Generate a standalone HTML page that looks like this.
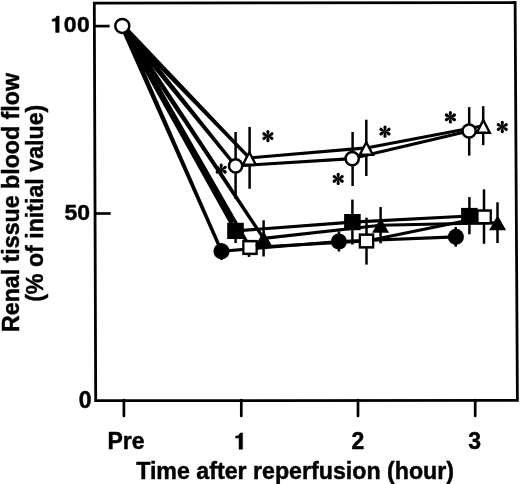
<!DOCTYPE html>
<html><head><meta charset="utf-8"><style>
html,body{margin:0;padding:0;background:#fff;width:520px;height:484px;overflow:hidden}
svg{display:block;will-change:transform}
</style></head><body>
<svg width="520" height="484" viewBox="0 0 520 484">
<rect width="520" height="484" fill="#fff"/>
<polygon points="94.3,3.07 515.1,2.52 517.4,400.28 95.7,400.7" fill="none" stroke="#000" stroke-width="2.8" stroke-linejoin="miter"/>
<g stroke="#000" stroke-width="2.7" stroke-linecap="butt">
<line x1="94.5" y1="26.1" x2="109.6" y2="26.1"/>
<line x1="95" y1="213.5" x2="110.7" y2="213.5"/>
<line x1="123.9" y1="400" x2="123.9" y2="416" stroke-linecap="round"/>
<line x1="241.3" y1="400" x2="241.3" y2="416" stroke-linecap="round"/>
<line x1="358.0" y1="400" x2="358.0" y2="416" stroke-linecap="round"/>
<line x1="475.2" y1="400" x2="475.2" y2="416" stroke-linecap="round"/>
</g>
<g fill="none" stroke="#000" stroke-width="3.1" stroke-linejoin="round" stroke-linecap="round">
<polyline points="221.5,251.2 338.9,241.5 455.9,236.9"/>
<polyline points="235.5,230.9 352.4,222.1 469.4,216.0"/>
<polyline points="250.0,247.5 366.5,241.0 484.1,216.9"/>
<polyline points="263.6,238.4 380.6,225.3 497.6,222.7"/>
<polyline points="235.6,165.9 352.2,158.6 469.1,131.0"/>
<polyline points="249.3,157.9 366.3,147.9 483.3,125.7"/>
</g>
<g fill="#000" stroke="none">
<polygon points="120.0,26.9 220.0,251.9 223.0,250.5 124.6,24.9"/>
<polygon points="120.0,27.2 234.0,231.7 237.0,230.1 124.6,24.6"/>
<polygon points="120.2,27.1 248.5,248.3 251.5,246.7 124.4,24.7"/>
<polygon points="120.1,27.4 262.3,239.3 264.9,237.5 124.5,24.4"/>
<polygon points="120.1,27.7 234.3,166.9 236.9,164.9 124.5,24.1"/>
<polygon points="120.2,27.9 248.1,159.0 250.5,156.8 124.4,23.9"/>
<polygon points="120.3,27.0 231.3,223.0 234.7,221.0 124.3,24.8"/>
</g>
<g stroke="#000" stroke-width="2.5" stroke-linecap="butt">
<line x1="235.6" y1="132.0" x2="235.6" y2="199.0"/>
<line x1="352.6" y1="132.0" x2="352.6" y2="186.0"/>
<line x1="469.2" y1="107.1" x2="469.2" y2="155.6"/>
<line x1="249.6" y1="126.9" x2="249.6" y2="188.8"/>
<line x1="366.3" y1="119.7" x2="366.3" y2="176.0"/>
<line x1="483.2" y1="106.2" x2="483.2" y2="145.2"/>
<line x1="235.6" y1="225.0" x2="235.6" y2="243.0"/>
<line x1="352.4" y1="199.6" x2="352.4" y2="244.6"/>
<line x1="469.4" y1="197.1" x2="469.4" y2="234.3"/>
<line x1="249.0" y1="240.0" x2="249.0" y2="257.0"/>
<line x1="366.5" y1="217.7" x2="366.5" y2="264.6"/>
<line x1="484.0" y1="189.3" x2="484.0" y2="243.8"/>
<line x1="263.6" y1="220.3" x2="263.6" y2="256.5"/>
<line x1="380.6" y1="207.0" x2="380.6" y2="243.3"/>
<line x1="497.5" y1="202.3" x2="497.5" y2="243.0"/>
<line x1="221.5" y1="243.0" x2="221.5" y2="260.0"/>
<line x1="338.9" y1="231.3" x2="338.9" y2="251.5"/>
<line x1="455.7" y1="227.0" x2="455.7" y2="246.7"/>
</g>
<g stroke="#000" stroke-width="2.5">
<circle cx="221.5" cy="251.2" r="8.05" fill="#000" stroke="none"/>
<circle cx="338.9" cy="241.5" r="8.05" fill="#000" stroke="none"/>
<circle cx="455.9" cy="236.9" r="8.05" fill="#000" stroke="none"/>
<rect x="227.2" y="222.8" width="16.6" height="16.2" fill="#000" stroke="none"/>
<rect x="344.1" y="214.0" width="16.6" height="16.2" fill="#000" stroke="none"/>
<rect x="461.1" y="207.9" width="16.6" height="16.2" fill="#000" stroke="none"/>
<rect x="242.2" y="239.9" width="15.6" height="15.2" fill="#000" stroke="none"/>
<rect x="244.5" y="242.4" width="11" height="10.2" fill="#fff" stroke="none"/>
<rect x="358.7" y="233.4" width="15.6" height="15.2" fill="#000" stroke="none"/>
<rect x="361.0" y="235.9" width="11" height="10.2" fill="#fff" stroke="none"/>
<rect x="476.3" y="209.3" width="15.6" height="15.2" fill="#000" stroke="none"/>
<rect x="478.6" y="211.8" width="11" height="10.2" fill="#fff" stroke="none"/>
<polygon points="263.6,231.0 255.1,245.9 272.1,245.9" fill="#000" stroke="none"/>
<polygon points="380.6,217.9 372.1,232.8 389.1,232.8" fill="#000" stroke="none"/>
<polygon points="497.6,215.2 489.1,230.2 506.1,230.2" fill="#000" stroke="none"/>
<polygon points="249.3,152.3 242.8,164.8 255.8,164.8" fill="#fff" stroke-width="2.4" stroke-linejoin="miter"/>
<polygon points="366.3,142.3 359.8,154.8 372.8,154.8" fill="#fff" stroke-width="2.4" stroke-linejoin="miter"/>
<polygon points="483.3,120.1 476.8,132.7 489.8,132.7" fill="#fff" stroke-width="2.4" stroke-linejoin="miter"/>
<circle cx="122.3" cy="25.9" r="7.0" fill="#fff"/>
<circle cx="235.6" cy="165.9" r="6.6" fill="#fff"/>
<circle cx="352.2" cy="158.6" r="6.6" fill="#fff"/>
<circle cx="469.1" cy="131.0" r="6.6" fill="#fff"/>
</g>
<g fill="#000" stroke="none">
<path d="M-0.4,0 C-0.8,-1.8 -1.6,-3.2 -1.6,-4.6 A1.6,1.6 0 0 1 1.6,-4.6 C1.6,-3.2 0.8,-1.8 0.4,0 Z" transform="translate(221.2,169.7) rotate(0)"/>
<path d="M-0.4,0 C-0.8,-1.8 -1.6,-3.2 -1.6,-4.6 A1.6,1.6 0 0 1 1.6,-4.6 C1.6,-3.2 0.8,-1.8 0.4,0 Z" transform="translate(221.2,169.7) rotate(60)"/>
<path d="M-0.4,0 C-0.8,-1.8 -1.6,-3.2 -1.6,-4.6 A1.6,1.6 0 0 1 1.6,-4.6 C1.6,-3.2 0.8,-1.8 0.4,0 Z" transform="translate(221.2,169.7) rotate(120)"/>
<path d="M-0.4,0 C-0.8,-1.8 -1.6,-3.2 -1.6,-4.6 A1.6,1.6 0 0 1 1.6,-4.6 C1.6,-3.2 0.8,-1.8 0.4,0 Z" transform="translate(221.2,169.7) rotate(180)"/>
<path d="M-0.4,0 C-0.8,-1.8 -1.6,-3.2 -1.6,-4.6 A1.6,1.6 0 0 1 1.6,-4.6 C1.6,-3.2 0.8,-1.8 0.4,0 Z" transform="translate(221.2,169.7) rotate(240)"/>
<path d="M-0.4,0 C-0.8,-1.8 -1.6,-3.2 -1.6,-4.6 A1.6,1.6 0 0 1 1.6,-4.6 C1.6,-3.2 0.8,-1.8 0.4,0 Z" transform="translate(221.2,169.7) rotate(300)"/>
<path d="M-0.4,0 C-0.8,-1.8 -1.6,-3.2 -1.6,-4.6 A1.6,1.6 0 0 1 1.6,-4.6 C1.6,-3.2 0.8,-1.8 0.4,0 Z" transform="translate(267.9,136.1) rotate(0)"/>
<path d="M-0.4,0 C-0.8,-1.8 -1.6,-3.2 -1.6,-4.6 A1.6,1.6 0 0 1 1.6,-4.6 C1.6,-3.2 0.8,-1.8 0.4,0 Z" transform="translate(267.9,136.1) rotate(60)"/>
<path d="M-0.4,0 C-0.8,-1.8 -1.6,-3.2 -1.6,-4.6 A1.6,1.6 0 0 1 1.6,-4.6 C1.6,-3.2 0.8,-1.8 0.4,0 Z" transform="translate(267.9,136.1) rotate(120)"/>
<path d="M-0.4,0 C-0.8,-1.8 -1.6,-3.2 -1.6,-4.6 A1.6,1.6 0 0 1 1.6,-4.6 C1.6,-3.2 0.8,-1.8 0.4,0 Z" transform="translate(267.9,136.1) rotate(180)"/>
<path d="M-0.4,0 C-0.8,-1.8 -1.6,-3.2 -1.6,-4.6 A1.6,1.6 0 0 1 1.6,-4.6 C1.6,-3.2 0.8,-1.8 0.4,0 Z" transform="translate(267.9,136.1) rotate(240)"/>
<path d="M-0.4,0 C-0.8,-1.8 -1.6,-3.2 -1.6,-4.6 A1.6,1.6 0 0 1 1.6,-4.6 C1.6,-3.2 0.8,-1.8 0.4,0 Z" transform="translate(267.9,136.1) rotate(300)"/>
<path d="M-0.4,0 C-0.8,-1.8 -1.6,-3.2 -1.6,-4.6 A1.6,1.6 0 0 1 1.6,-4.6 C1.6,-3.2 0.8,-1.8 0.4,0 Z" transform="translate(338.2,178.9) rotate(0)"/>
<path d="M-0.4,0 C-0.8,-1.8 -1.6,-3.2 -1.6,-4.6 A1.6,1.6 0 0 1 1.6,-4.6 C1.6,-3.2 0.8,-1.8 0.4,0 Z" transform="translate(338.2,178.9) rotate(60)"/>
<path d="M-0.4,0 C-0.8,-1.8 -1.6,-3.2 -1.6,-4.6 A1.6,1.6 0 0 1 1.6,-4.6 C1.6,-3.2 0.8,-1.8 0.4,0 Z" transform="translate(338.2,178.9) rotate(120)"/>
<path d="M-0.4,0 C-0.8,-1.8 -1.6,-3.2 -1.6,-4.6 A1.6,1.6 0 0 1 1.6,-4.6 C1.6,-3.2 0.8,-1.8 0.4,0 Z" transform="translate(338.2,178.9) rotate(180)"/>
<path d="M-0.4,0 C-0.8,-1.8 -1.6,-3.2 -1.6,-4.6 A1.6,1.6 0 0 1 1.6,-4.6 C1.6,-3.2 0.8,-1.8 0.4,0 Z" transform="translate(338.2,178.9) rotate(240)"/>
<path d="M-0.4,0 C-0.8,-1.8 -1.6,-3.2 -1.6,-4.6 A1.6,1.6 0 0 1 1.6,-4.6 C1.6,-3.2 0.8,-1.8 0.4,0 Z" transform="translate(338.2,178.9) rotate(300)"/>
<path d="M-0.4,0 C-0.8,-1.8 -1.6,-3.2 -1.6,-4.6 A1.6,1.6 0 0 1 1.6,-4.6 C1.6,-3.2 0.8,-1.8 0.4,0 Z" transform="translate(385.0,131.6) rotate(0)"/>
<path d="M-0.4,0 C-0.8,-1.8 -1.6,-3.2 -1.6,-4.6 A1.6,1.6 0 0 1 1.6,-4.6 C1.6,-3.2 0.8,-1.8 0.4,0 Z" transform="translate(385.0,131.6) rotate(60)"/>
<path d="M-0.4,0 C-0.8,-1.8 -1.6,-3.2 -1.6,-4.6 A1.6,1.6 0 0 1 1.6,-4.6 C1.6,-3.2 0.8,-1.8 0.4,0 Z" transform="translate(385.0,131.6) rotate(120)"/>
<path d="M-0.4,0 C-0.8,-1.8 -1.6,-3.2 -1.6,-4.6 A1.6,1.6 0 0 1 1.6,-4.6 C1.6,-3.2 0.8,-1.8 0.4,0 Z" transform="translate(385.0,131.6) rotate(180)"/>
<path d="M-0.4,0 C-0.8,-1.8 -1.6,-3.2 -1.6,-4.6 A1.6,1.6 0 0 1 1.6,-4.6 C1.6,-3.2 0.8,-1.8 0.4,0 Z" transform="translate(385.0,131.6) rotate(240)"/>
<path d="M-0.4,0 C-0.8,-1.8 -1.6,-3.2 -1.6,-4.6 A1.6,1.6 0 0 1 1.6,-4.6 C1.6,-3.2 0.8,-1.8 0.4,0 Z" transform="translate(385.0,131.6) rotate(300)"/>
<path d="M-0.4,0 C-0.8,-1.8 -1.6,-3.2 -1.6,-4.6 A1.6,1.6 0 0 1 1.6,-4.6 C1.6,-3.2 0.8,-1.8 0.4,0 Z" transform="translate(450.4,117.3) rotate(0)"/>
<path d="M-0.4,0 C-0.8,-1.8 -1.6,-3.2 -1.6,-4.6 A1.6,1.6 0 0 1 1.6,-4.6 C1.6,-3.2 0.8,-1.8 0.4,0 Z" transform="translate(450.4,117.3) rotate(60)"/>
<path d="M-0.4,0 C-0.8,-1.8 -1.6,-3.2 -1.6,-4.6 A1.6,1.6 0 0 1 1.6,-4.6 C1.6,-3.2 0.8,-1.8 0.4,0 Z" transform="translate(450.4,117.3) rotate(120)"/>
<path d="M-0.4,0 C-0.8,-1.8 -1.6,-3.2 -1.6,-4.6 A1.6,1.6 0 0 1 1.6,-4.6 C1.6,-3.2 0.8,-1.8 0.4,0 Z" transform="translate(450.4,117.3) rotate(180)"/>
<path d="M-0.4,0 C-0.8,-1.8 -1.6,-3.2 -1.6,-4.6 A1.6,1.6 0 0 1 1.6,-4.6 C1.6,-3.2 0.8,-1.8 0.4,0 Z" transform="translate(450.4,117.3) rotate(240)"/>
<path d="M-0.4,0 C-0.8,-1.8 -1.6,-3.2 -1.6,-4.6 A1.6,1.6 0 0 1 1.6,-4.6 C1.6,-3.2 0.8,-1.8 0.4,0 Z" transform="translate(450.4,117.3) rotate(300)"/>
<path d="M-0.4,0 C-0.8,-1.8 -1.6,-3.2 -1.6,-4.6 A1.6,1.6 0 0 1 1.6,-4.6 C1.6,-3.2 0.8,-1.8 0.4,0 Z" transform="translate(502.3,127.0) rotate(0)"/>
<path d="M-0.4,0 C-0.8,-1.8 -1.6,-3.2 -1.6,-4.6 A1.6,1.6 0 0 1 1.6,-4.6 C1.6,-3.2 0.8,-1.8 0.4,0 Z" transform="translate(502.3,127.0) rotate(60)"/>
<path d="M-0.4,0 C-0.8,-1.8 -1.6,-3.2 -1.6,-4.6 A1.6,1.6 0 0 1 1.6,-4.6 C1.6,-3.2 0.8,-1.8 0.4,0 Z" transform="translate(502.3,127.0) rotate(120)"/>
<path d="M-0.4,0 C-0.8,-1.8 -1.6,-3.2 -1.6,-4.6 A1.6,1.6 0 0 1 1.6,-4.6 C1.6,-3.2 0.8,-1.8 0.4,0 Z" transform="translate(502.3,127.0) rotate(180)"/>
<path d="M-0.4,0 C-0.8,-1.8 -1.6,-3.2 -1.6,-4.6 A1.6,1.6 0 0 1 1.6,-4.6 C1.6,-3.2 0.8,-1.8 0.4,0 Z" transform="translate(502.3,127.0) rotate(240)"/>
<path d="M-0.4,0 C-0.8,-1.8 -1.6,-3.2 -1.6,-4.6 A1.6,1.6 0 0 1 1.6,-4.6 C1.6,-3.2 0.8,-1.8 0.4,0 Z" transform="translate(502.3,127.0) rotate(300)"/>
</g>
<g font-family="Liberation Sans, sans-serif" font-weight="bold" font-size="23" fill="#000" stroke="#000" stroke-width="0.45" stroke-linejoin="round">
<path d="M378 710L378 0L222 0L222 490L69 490L69 572C134 576 185 598 214 622C245 646 262 682 266 710Z" vector-effect="non-scaling-stroke" transform="translate(50.50,32.40) scale(0.0230,-0.0230)"/>
<text transform="translate(63.8,32.3) scale(1,0.94)" letter-spacing="0.4">00</text>
<text transform="translate(90.0,219.9) scale(1,0.96)" text-anchor="end">50</text>
<text x="91.5" y="408.3" text-anchor="end">0</text>
<text x="126" y="449.4" text-anchor="middle">Pre</text>
<path d="M378 710L378 0L222 0L222 490L69 490L69 572C134 576 185 598 214 622C245 646 262 682 266 710Z" vector-effect="non-scaling-stroke" transform="translate(233.90,449.30) scale(0.0230,-0.0230)"/>
<text x="358" y="449.1" text-anchor="middle">2</text>
<text x="474.7" y="449.3" text-anchor="middle">3</text>
<text x="295.1" y="478.7" text-anchor="middle" font-size="23.2">Time after reperfusion (hour)</text>
<text transform="translate(18.8,202.5) rotate(-90)" text-anchor="middle" font-size="23.2">Renal tissue blood flow</text>
<text transform="translate(43.2,203.3) rotate(-90)" text-anchor="middle" font-size="23.2">(% of initial value)</text>
</g>
</svg>
</body></html>
